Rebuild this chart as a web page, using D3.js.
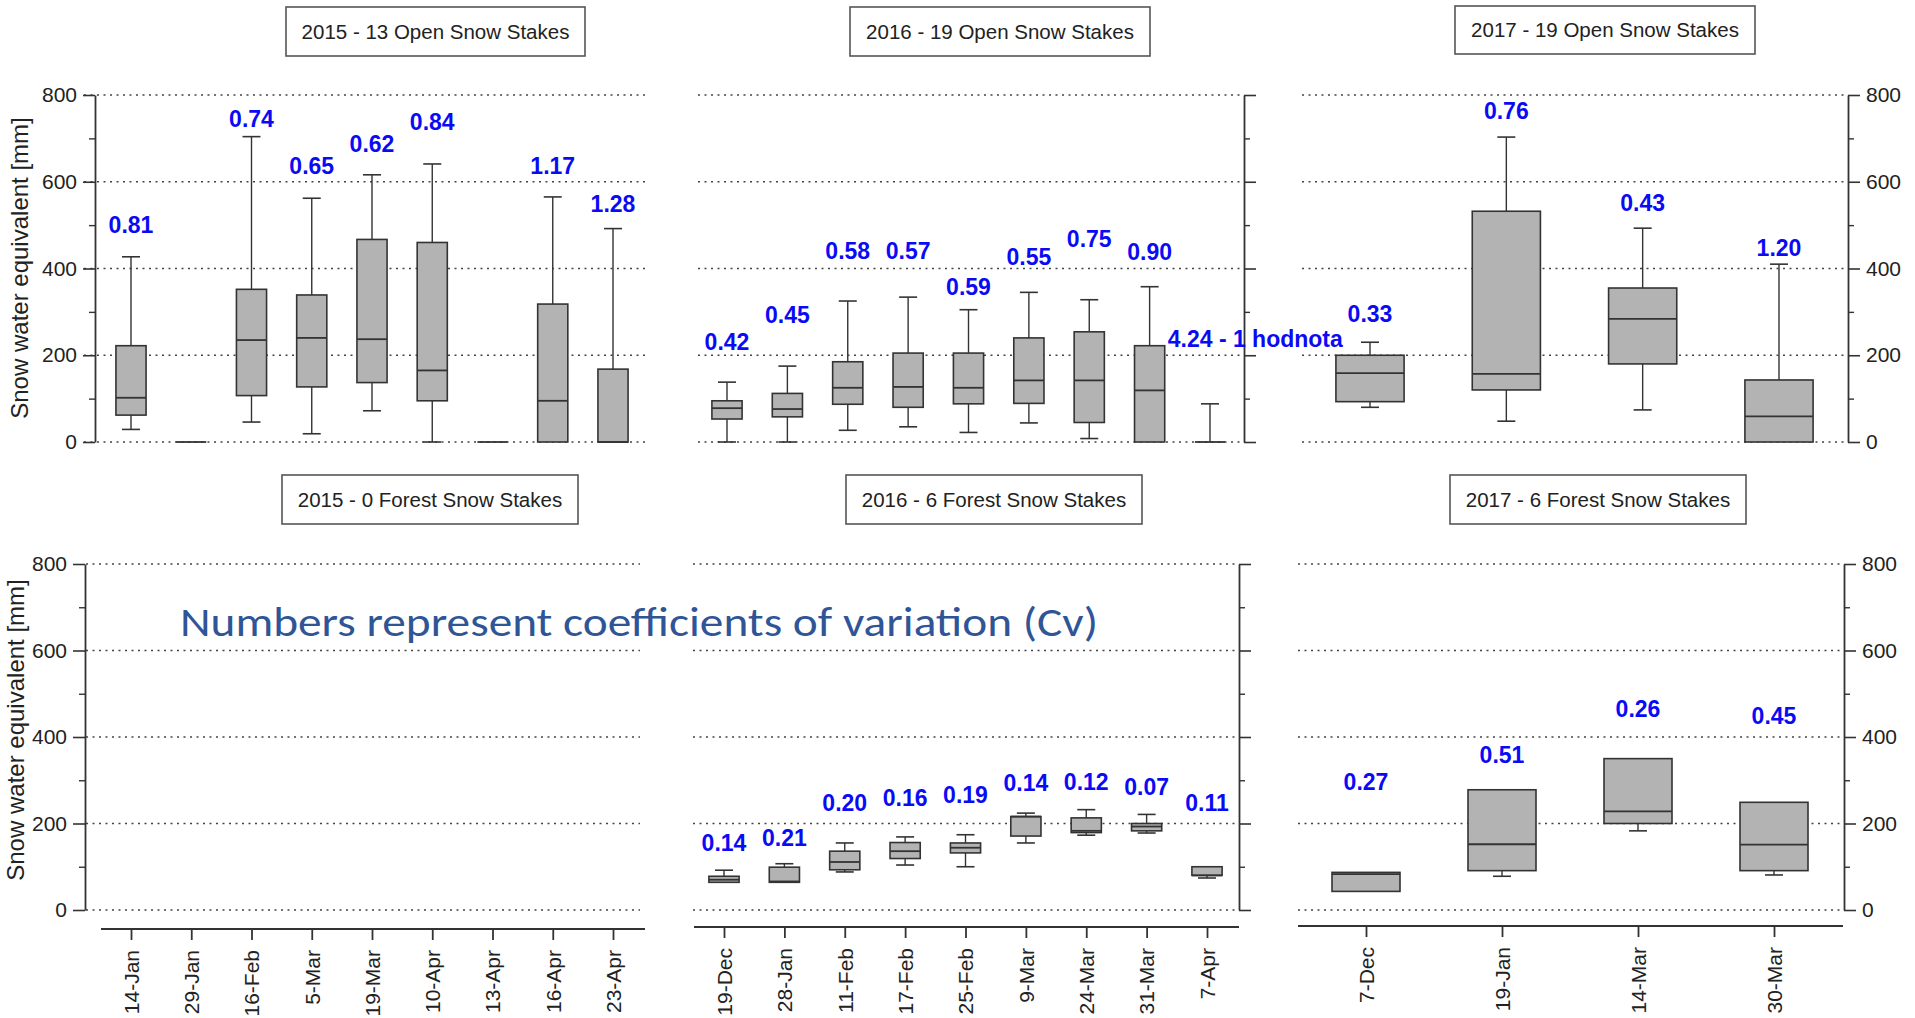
<!DOCTYPE html>
<html>
<head>
<meta charset="utf-8">
<script src="https://cdn.jsdelivr.net/npm/d3@7"></script>
<style>
  body { margin: 0; background: #fff; }
  text { font-family: "Liberation Sans", Arial, sans-serif; }
</style>
</head>
<body>
<script>
var width = 1915,
    height = 1018;

// categories (dates)
var cats2015 = ["14-Jan", "29-Jan", "16-Feb", "5-Mar", "19-Mar", "10-Apr", "13-Apr", "16-Apr", "23-Apr"];
var cats2016 = ["19-Dec", "28-Jan", "11-Feb", "17-Feb", "25-Feb", "9-Mar", "24-Mar", "31-Mar", "7-Apr"];
var cats2017 = ["7-Dec", "19-Jan", "14-Mar", "30-Mar"];

// box stats: [low whisker, q1, median, q3, high whisker] in mm
var open2015 = [
  [29, 62, 102, 222, 427],
  [0, 0, 0, 0, 0],
  [46, 107, 235, 352, 704],
  [19, 127, 240, 339, 562],
  [72, 137, 237, 467, 616],
  [0, 95, 165, 460, 641],
  [0, 0, 0, 0, 0],
  [0, 0, 95, 318, 565],
  [0, 0, 0, 168, 492]
];
var open2015Cv = ["0.81", null, "0.74", "0.65", "0.62", "0.84", null, "1.17", "1.28"];
var open2015CvAt = [481, null, 727, 618, 669, 719, null, 617, 530];

var open2016 = [
  [0, 53, 78, 95, 138],
  [0, 58, 76, 112, 175],
  [27, 87, 125, 185, 325],
  [35, 80, 127, 205, 334],
  [22, 88, 125, 205, 305],
  [44, 89, 142, 240, 345],
  [8, 45, 142, 254, 328],
  [0, 0, 119, 222, 358],
  [0, 0, 0, 0, 88]
];
var open2016Cv = ["0.42", "0.45", "0.58", "0.57", "0.59", "0.55", "0.75", "0.90", "4.24 - 1 hodnota"];
var open2016CvAt = [211, 275, 421, 421, 338, 408, 450, 419, 219];

var open2017 = [
  [80, 93, 159, 200, 230],
  [48, 120, 157, 532, 703],
  [74, 180, 284, 355, 493],
  [0, 0, 59, 143, 410]
];
var open2017Cv = ["0.33", "0.76", "0.43", "1.20"];
var open2017CvAt = [277, 744, 532, 429];

var forest2016 = [
  [64, 64, 70, 78, 92],
  [64, 64, 66, 99, 107],
  [88, 93, 111, 136, 155],
  [104, 119, 136, 156, 169],
  [100, 132, 144, 155, 174],
  [155, 171, 216, 216, 224],
  [173, 179, 183, 213, 232],
  [178, 183, 193, 200, 221],
  [74, 80, 80, 100, 100]
];
var forest2016Cv = ["0.14", "0.21", "0.20", "0.16", "0.19", "0.14", "0.12", "0.07", "0.11"];
var forest2016CvAt = [136, 148, 230, 241, 247, 276, 277, 267, 230];

var forest2017 = [
  [43, 43, 83, 87, 87],
  [78, 91, 152, 278, 278],
  [183, 200, 228, 350, 350],
  [81, 91, 151, 249, 249]
];
var forest2017Cv = ["0.27", "0.51", "0.26", "0.45"];
var forest2017CvAt = [278, 341, 447, 430];

var majorTicks = [0, 200, 400, 600, 800];
var minorTicks = [100, 300, 500, 700];

var svg = d3.select("body").append("svg")
    .attr("width", width)
    .attr("height", height);

var panels = [
  { title: "2015 - 13 Open Snow Stakes", tb: [286, 7, 299, 49], cats: cats2015, stats: open2015, cv: open2015Cv, cvAt: open2015CvAt,
    range: [131, 613], yr: [442, 95], axisX: 95, side: "left", labels: true, grid: [84, 648], ylab: [20, 268] },
  { title: "2016 - 19 Open Snow Stakes", tb: [850, 7, 300, 49], cats: cats2016, stats: open2016, cv: open2016Cv, cvAt: open2016CvAt,
    range: [727, 1210], yr: [442, 95], axisX: 1244, side: "right", labels: false, grid: [698, 1240] },
  { title: "2017 - 19 Open Snow Stakes", tb: [1455, 6, 300, 48], cats: cats2017, stats: open2017, cv: open2017Cv, cvAt: open2017CvAt,
    range: [1370, 1779], yr: [442, 95], axisX: 1848, side: "right", labels: true, grid: [1302, 1845] },
  { title: "2015 - 0 Forest Snow Stakes", tb: [282, 475, 296, 49], cats: cats2015, stats: [], cv: [], cvAt: [],
    range: [131, 613], yr: [910, 564], axisX: 85, side: "left", labels: true, grid: [86, 640], ylab: [16, 730], xaxis: [101, 645, 929] },
  { title: "2016 - 6 Forest Snow Stakes", tb: [846, 475, 296, 49], cats: cats2016, stats: forest2016, cv: forest2016Cv, cvAt: forest2016CvAt,
    range: [724, 1207], yr: [910, 564], axisX: 1239, side: "right", labels: false, grid: [693, 1236], xaxis: [694, 1239, 927] },
  { title: "2017 - 6 Forest Snow Stakes", tb: [1450, 475, 296, 49], cats: cats2017, stats: forest2017, cv: forest2017Cv, cvAt: forest2017CvAt,
    range: [1366, 1774], yr: [910, 564], axisX: 1844, side: "right", labels: true, grid: [1298, 1841], xaxis: [1298, 1843, 926] }
];

panels.forEach(function(p) {
  var g = svg.append("g");
  var x = d3.scalePoint().domain(p.cats).range(p.range);
  var y = d3.scaleLinear().domain([0, 800]).range(p.yr);
  var step = x.step(), bw = step * 0.5, cap = 9;

  // title box
  g.append("rect")
      .attr("x", p.tb[0]).attr("y", p.tb[1])
      .attr("width", p.tb[2]).attr("height", p.tb[3])
      .attr("fill", "#fff").attr("stroke", "#555").attr("stroke-width", 1.6);
  g.append("text")
      .attr("x", p.tb[0] + p.tb[2] / 2).attr("y", p.tb[1] + p.tb[3] / 2)
      .attr("dy", "0.36em")
      .attr("text-anchor", "middle")
      .attr("font-size", 20.5)
      .attr("fill", "#222")
      .text(p.title);

  // dotted grid
  g.selectAll(".grid").data(majorTicks).enter().append("line")
      .attr("x1", p.grid[0]).attr("x2", p.grid[1])
      .attr("y1", function(d) { return y(d); })
      .attr("y2", function(d) { return y(d); })
      .attr("stroke", "#444").attr("stroke-width", 1.4)
      .attr("stroke-dasharray", "2,4.5");

  // y axis
  var ax = (p.side == "left" ? d3.axisLeft(y) : d3.axisRight(y))
      .tickValues(majorTicks).tickSize(12).tickSizeOuter(0).tickPadding(6);
  if (!p.labels) ax.tickFormat("");
  var ag = g.append("g")
      .attr("transform", "translate(" + p.axisX + ",0)")
      .call(ax);
  ag.select(".domain").attr("stroke", "#333").attr("stroke-width", 1.8);
  ag.selectAll(".tick line").attr("stroke", "#333").attr("stroke-width", 1.6);
  ag.selectAll(".tick text").attr("font-size", 21).attr("fill", "#222")
      .style("font-family", "'Liberation Sans', Arial, sans-serif");

  var mg = g.append("g")
      .attr("transform", "translate(" + p.axisX + ",0)")
      .call((p.side == "left" ? d3.axisLeft(y) : d3.axisRight(y))
        .tickValues(minorTicks).tickSize(6).tickSizeOuter(0).tickFormat(""));
  mg.select(".domain").remove();
  mg.selectAll(".tick line").attr("stroke", "#333").attr("stroke-width", 1.4);

  if (p.ylab) {
    g.append("text")
        .attr("transform", "translate(" + p.ylab[0] + "," + p.ylab[1] + ") rotate(-90)")
        .attr("text-anchor", "middle")
        .attr("dy", "0.35em")
        .attr("font-size", 24)
        .attr("fill", "#222")
        .text("Snow water equivalent [mm]");
  }

  // x axis (bottom row only)
  if (p.xaxis) {
    g.append("line")
        .attr("x1", p.xaxis[0]).attr("x2", p.xaxis[1])
        .attr("y1", p.xaxis[2]).attr("y2", p.xaxis[2])
        .attr("stroke", "#333").attr("stroke-width", 2);
    var xg = g.append("g")
        .attr("transform", "translate(0," + p.xaxis[2] + ")")
        .call(d3.axisBottom(x).tickSize(11).tickSizeOuter(0));
    xg.select(".domain").remove();
    xg.selectAll(".tick line").attr("stroke", "#333").attr("stroke-width", 1.8);
    xg.selectAll(".tick text")
        .attr("transform", "rotate(-90)")
        .attr("text-anchor", "end")
        .attr("x", -21).attr("y", 0).attr("dy", "0.35em")
        .attr("font-size", 21).attr("fill", "#222")
        .style("font-family", "'Liberation Sans', Arial, sans-serif");
  }

  // boxes
  var b = g.selectAll(".box").data(p.stats).enter().append("g")
      .attr("transform", function(d, i) { return "translate(" + x(p.cats[i]) + ",0)"; });
  b.filter(function(d) { return d[4] > d[3]; }).append("line")
      .attr("y1", function(d) { return y(d[4]); }).attr("y2", function(d) { return y(d[3]); })
      .attr("stroke", "#333").attr("stroke-width", 1.4);
  b.filter(function(d) { return d[4] > d[3]; }).append("line")
      .attr("x1", -cap).attr("x2", cap)
      .attr("y1", function(d) { return y(d[4]); }).attr("y2", function(d) { return y(d[4]); })
      .attr("stroke", "#333").attr("stroke-width", 1.6);
  b.filter(function(d) { return d[1] > d[0]; }).append("line")
      .attr("y1", function(d) { return y(d[1]); }).attr("y2", function(d) { return y(d[0]); })
      .attr("stroke", "#333").attr("stroke-width", 1.4);
  b.filter(function(d) { return d[1] > d[0]; }).append("line")
      .attr("x1", -cap).attr("x2", cap)
      .attr("y1", function(d) { return y(d[0]); }).attr("y2", function(d) { return y(d[0]); })
      .attr("stroke", "#333").attr("stroke-width", 1.6);
  b.append("rect")
      .attr("x", -bw / 2).attr("width", bw)
      .attr("y", function(d) { return y(d[3]); })
      .attr("height", function(d) { return y(d[1]) - y(d[3]); })
      .attr("fill", "#b3b3b3").attr("stroke", "#333").attr("stroke-width", 1.6);
  b.append("line")
      .attr("x1", -bw / 2).attr("x2", bw / 2)
      .attr("y1", function(d) { return y(d[2]); }).attr("y2", function(d) { return y(d[2]); })
      .attr("stroke", "#333").attr("stroke-width", 1.8);

  // coefficient of variation labels
  var idx = d3.range(p.cv.length).filter(function(i) { return p.cv[i] != null; });
  g.selectAll(".cv").data(idx).enter().append("text")
      .attr("x", function(i) { return x(p.cats[i]); })
      .attr("y", function(i) { return y(p.cvAt[i]); })
      .attr("text-anchor", function(i) { return p.cv[i].length > 5 ? "start" : "middle"; })
      .attr("dx", function(i) { return p.cv[i].length > 5 ? -step * 0.7 : 0; })
      .attr("font-size", 23)
      .attr("font-weight", "bold")
      .attr("fill", "#0a0af5")
      .text(function(i) { return p.cv[i]; });
});

svg.append("text")
    .attr("x", 180).attr("y", 636)
    .attr("font-size", 40)
    .attr("fill", "#2f5597")
    .attr("textLength", 918)
    .attr("lengthAdjust", "spacingAndGlyphs")
    .style("font-family", "Carlito, 'Open Sans', sans-serif")
    .text("Numbers represent coefficients of variation (Cv)");
</script>
</body>
</html>
